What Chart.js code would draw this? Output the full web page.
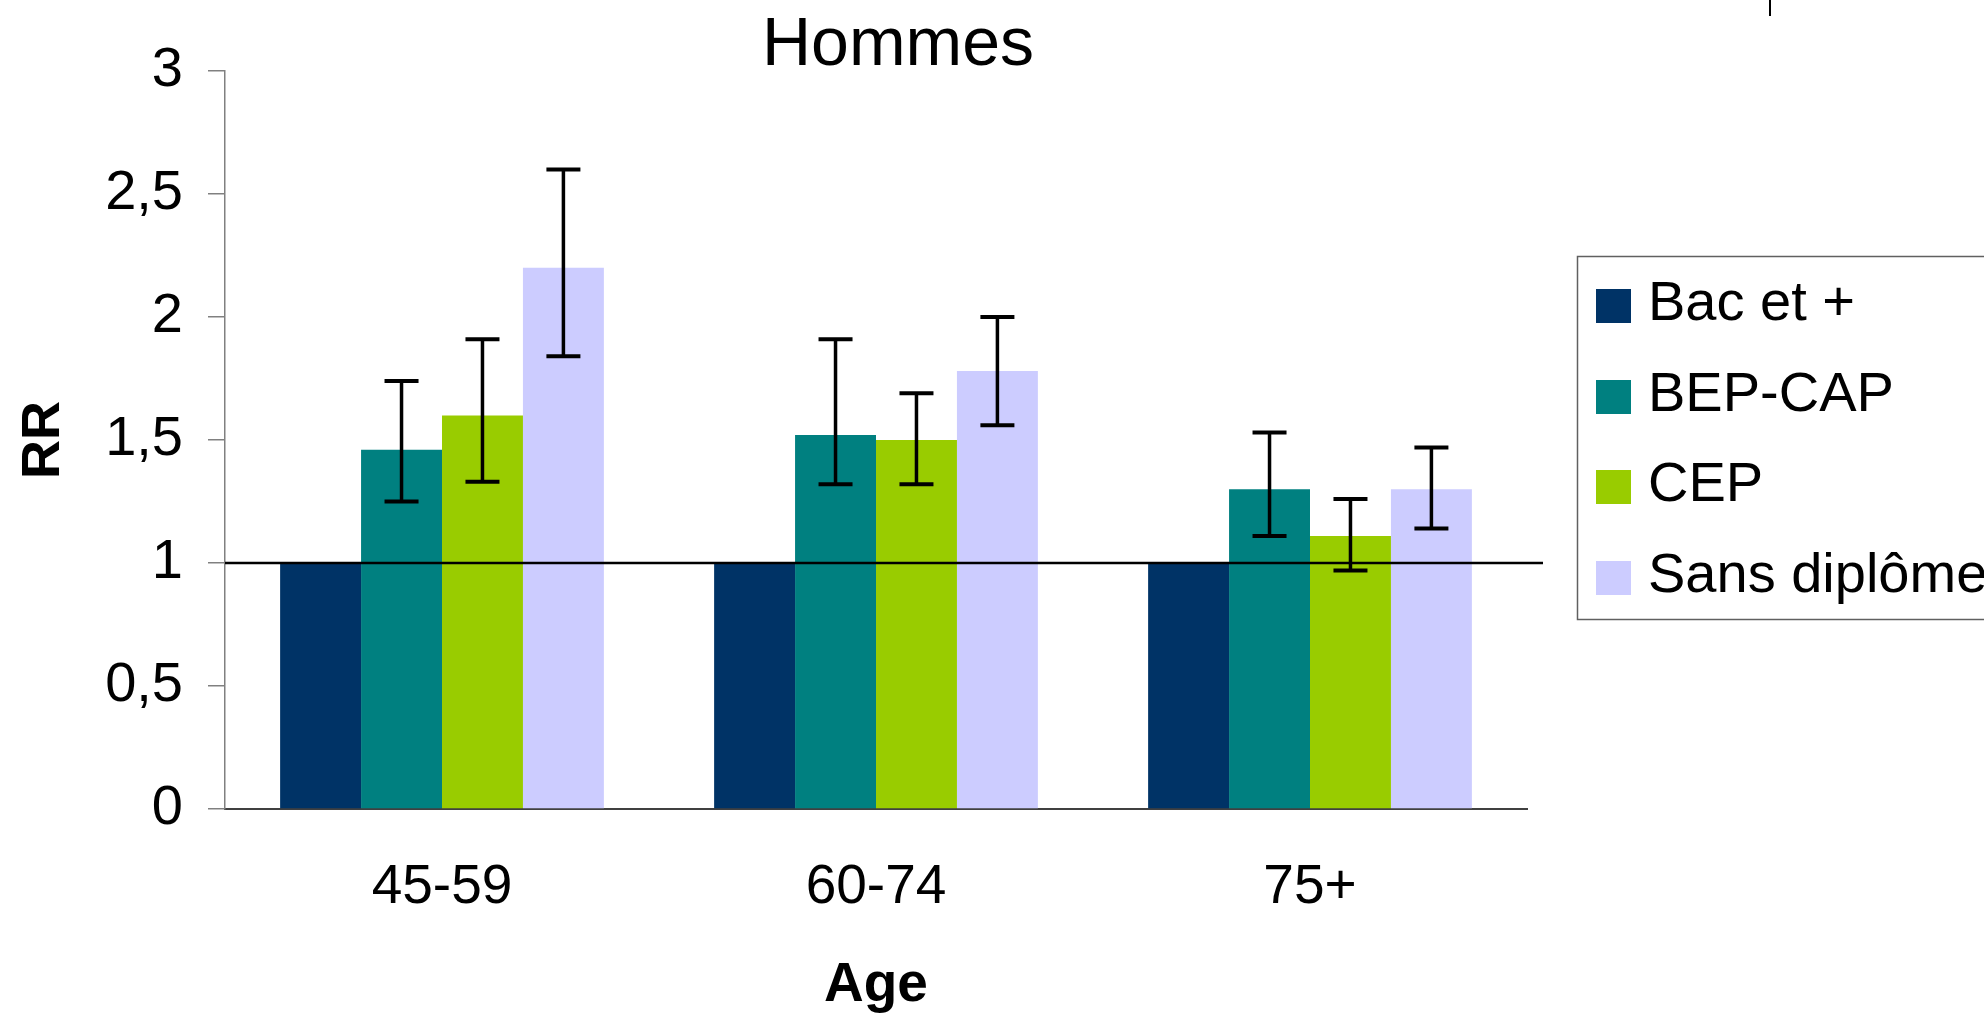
<!DOCTYPE html>
<html>
<head>
<meta charset="utf-8">
<script src="https://cdn.jsdelivr.net/npm/chart.js@4.4.1/dist/chart.umd.min.js"></script>
<style>
  html, body { margin: 0; padding: 0; background: #ffffff; }
  #wrap { width: 1984px; height: 1019px; position: relative; }
</style>
</head>
<body>
<div id="wrap"><canvas id="c"></canvas></div>
<script>
// ---- data ----
const categories = ['45-59', '60-74', '75+'];
const seriesNames = ['Bac et +', 'BEP-CAP', 'CEP', 'Sans diplôme'];
const seriesColors = ['#003366', '#008080', '#99CC00', '#CCCCFF'];

const bacEtPlus = [1.0, 1.0, 1.0];
const bepCap = [1.46, 1.52, 1.30];
const cep = [1.60, 1.50, 1.11];
const sansDiplome = [2.20, 1.78, 1.30];

const bepCapLow = [1.25, 1.32, 1.11];
const bepCapHigh = [1.74, 1.91, 1.53];
const cepLow = [1.33, 1.32, 0.97];
const cepHigh = [1.91, 1.69, 1.26];
const sansLow = [1.84, 1.56, 1.14];
const sansHigh = [2.60, 2.00, 1.47];

const yTicks = [0, 0.5, 1, 1.5, 2, 2.5, 3];
const referenceValue = 1;
const chartTitle = 'Hommes';
const yTitle = 'RR';
const xTitle = 'Age';

const FONT = '"Liberation Sans", Arial, Helvetica, sans-serif';
Chart.defaults.font.family = FONT;
Chart.defaults.color = '#000000';

// ---- plugins ----
const refLinePlugin = {
  id: 'refLine',
  afterDatasetsDraw(chart) {
    const { ctx, chartArea, scales } = chart;
    const y = scales.y.getPixelForValue(referenceValue);
    ctx.save();
    ctx.strokeStyle = '#000000';
    ctx.lineWidth = 2.5;
    ctx.beginPath();
    ctx.moveTo(chartArea.left, y);
    ctx.lineTo(chartArea.right + 16, y);
    ctx.stroke();
    ctx.restore();
  }
};

const errorBarPlugin = {
  id: 'errorBars',
  afterDatasetsDraw(chart) {
    const { ctx, scales } = chart;
    ctx.save();
    ctx.strokeStyle = '#000000';
    ctx.lineCap = 'butt';
    chart.data.datasets.forEach((ds, i) => {
      if (!ds.errLow) return;
      const meta = chart.getDatasetMeta(i);
      meta.data.forEach((el, j) => {
        const x = el.x;
        const yl = scales.y.getPixelForValue(ds.errLow[j]);
        const yh = scales.y.getPixelForValue(ds.errHigh[j]);
        ctx.lineWidth = 3.5;
        ctx.beginPath();
        ctx.moveTo(x, yl);
        ctx.lineTo(x, yh);
        ctx.stroke();
        ctx.lineWidth = 4;
        ctx.beginPath();
        ctx.moveTo(x - 17, yl); ctx.lineTo(x + 17, yl);
        ctx.moveTo(x - 17, yh); ctx.lineTo(x + 17, yh);
        ctx.stroke();
      });
    });
    ctx.restore();
  }
};

const decorPlugin = {
  id: 'decor',
  afterDraw(chart) {
    const { ctx } = chart;
    ctx.save();
    // title
    ctx.fillStyle = '#000000';
    ctx.font = '68px ' + FONT;
    ctx.textAlign = 'center';
    ctx.textBaseline = 'alphabetic';
    ctx.fillText(chartTitle, 898, 65);
    // small mark at top
    ctx.strokeStyle = '#000000';
    ctx.lineWidth = 2;
    ctx.beginPath();
    ctx.moveTo(1770, 0);
    ctx.lineTo(1770, 16);
    ctx.stroke();
    // legend box
    ctx.strokeStyle = '#606060';
    ctx.lineWidth = 1.5;
    ctx.strokeRect(1577.5, 256.5, 440, 363);
    const centers = [306, 397, 487, 578];
    ctx.font = '56px ' + FONT;
    ctx.textAlign = 'left';
    chart.data.datasets.forEach((ds, i) => {
      const cy = centers[i];
      ctx.fillStyle = ds.backgroundColor;
      ctx.fillRect(1596, cy - 17, 35, 34);
      ctx.fillStyle = '#000000';
      ctx.fillText(ds.label, 1648, cy + 14);
    });
    ctx.restore();
  }
};

const datasets = [
  { label: seriesNames[0], data: bacEtPlus, backgroundColor: seriesColors[0] },
  { label: seriesNames[1], data: bepCap, backgroundColor: seriesColors[1], errLow: bepCapLow, errHigh: bepCapHigh },
  { label: seriesNames[2], data: cep, backgroundColor: seriesColors[2], errLow: cepLow, errHigh: cepHigh },
  { label: seriesNames[3], data: sansDiplome, backgroundColor: seriesColors[3], errLow: sansLow, errHigh: sansHigh }
];

new Chart(document.getElementById('c'), {
  type: 'bar',
  data: { labels: categories, datasets: datasets },
  options: {
    responsive: true,
    maintainAspectRatio: false,
    animation: false,
    devicePixelRatio: 1,
    categoryPercentage: 0.746,
    barPercentage: 1.0,
    layout: { padding: { top: 71, right: 457, bottom: 0, left: 0 } },
    plugins: {
      legend: { display: false },
      title: { display: false },
      tooltip: { enabled: false }
    },
    scales: {
      x: {
        grid: { display: false, drawTicks: false, tickLength: 0 },
        border: { display: true, color: '#404040', width: 2 },
        ticks: { font: { size: 55 }, padding: 46, color: '#000000' },
        title: { display: true, text: xTitle, font: { size: 55, weight: 'bold' }, padding: { top: 0, bottom: 0 }, color: '#000000' },
        afterFit(scale) { scale.height = 210; }
      },
      y: {
        min: 0,
        max: 3,
        afterBuildTicks(scale) { scale.ticks = yTicks.map(v => ({ value: v })); },
        grid: { display: true, drawOnChartArea: false, drawTicks: true, tickLength: 17, color: '#808080', lineWidth: 1.5 },
        border: { display: true, color: '#808080', width: 1.5 },
        ticks: {
          font: { size: 56 },
          padding: 25,
          color: '#000000',
          callback: (v) => String(v).replace('.', ',')
        },
        title: { display: true, text: yTitle, font: { size: 54, weight: 'bold' }, padding: { top: 12, bottom: 0 }, color: '#000000' },
        afterFit(scale) { scale.width = 225; }
      }
    }
  },
  plugins: [refLinePlugin, errorBarPlugin, decorPlugin]
});
</script>
</body>
</html>
